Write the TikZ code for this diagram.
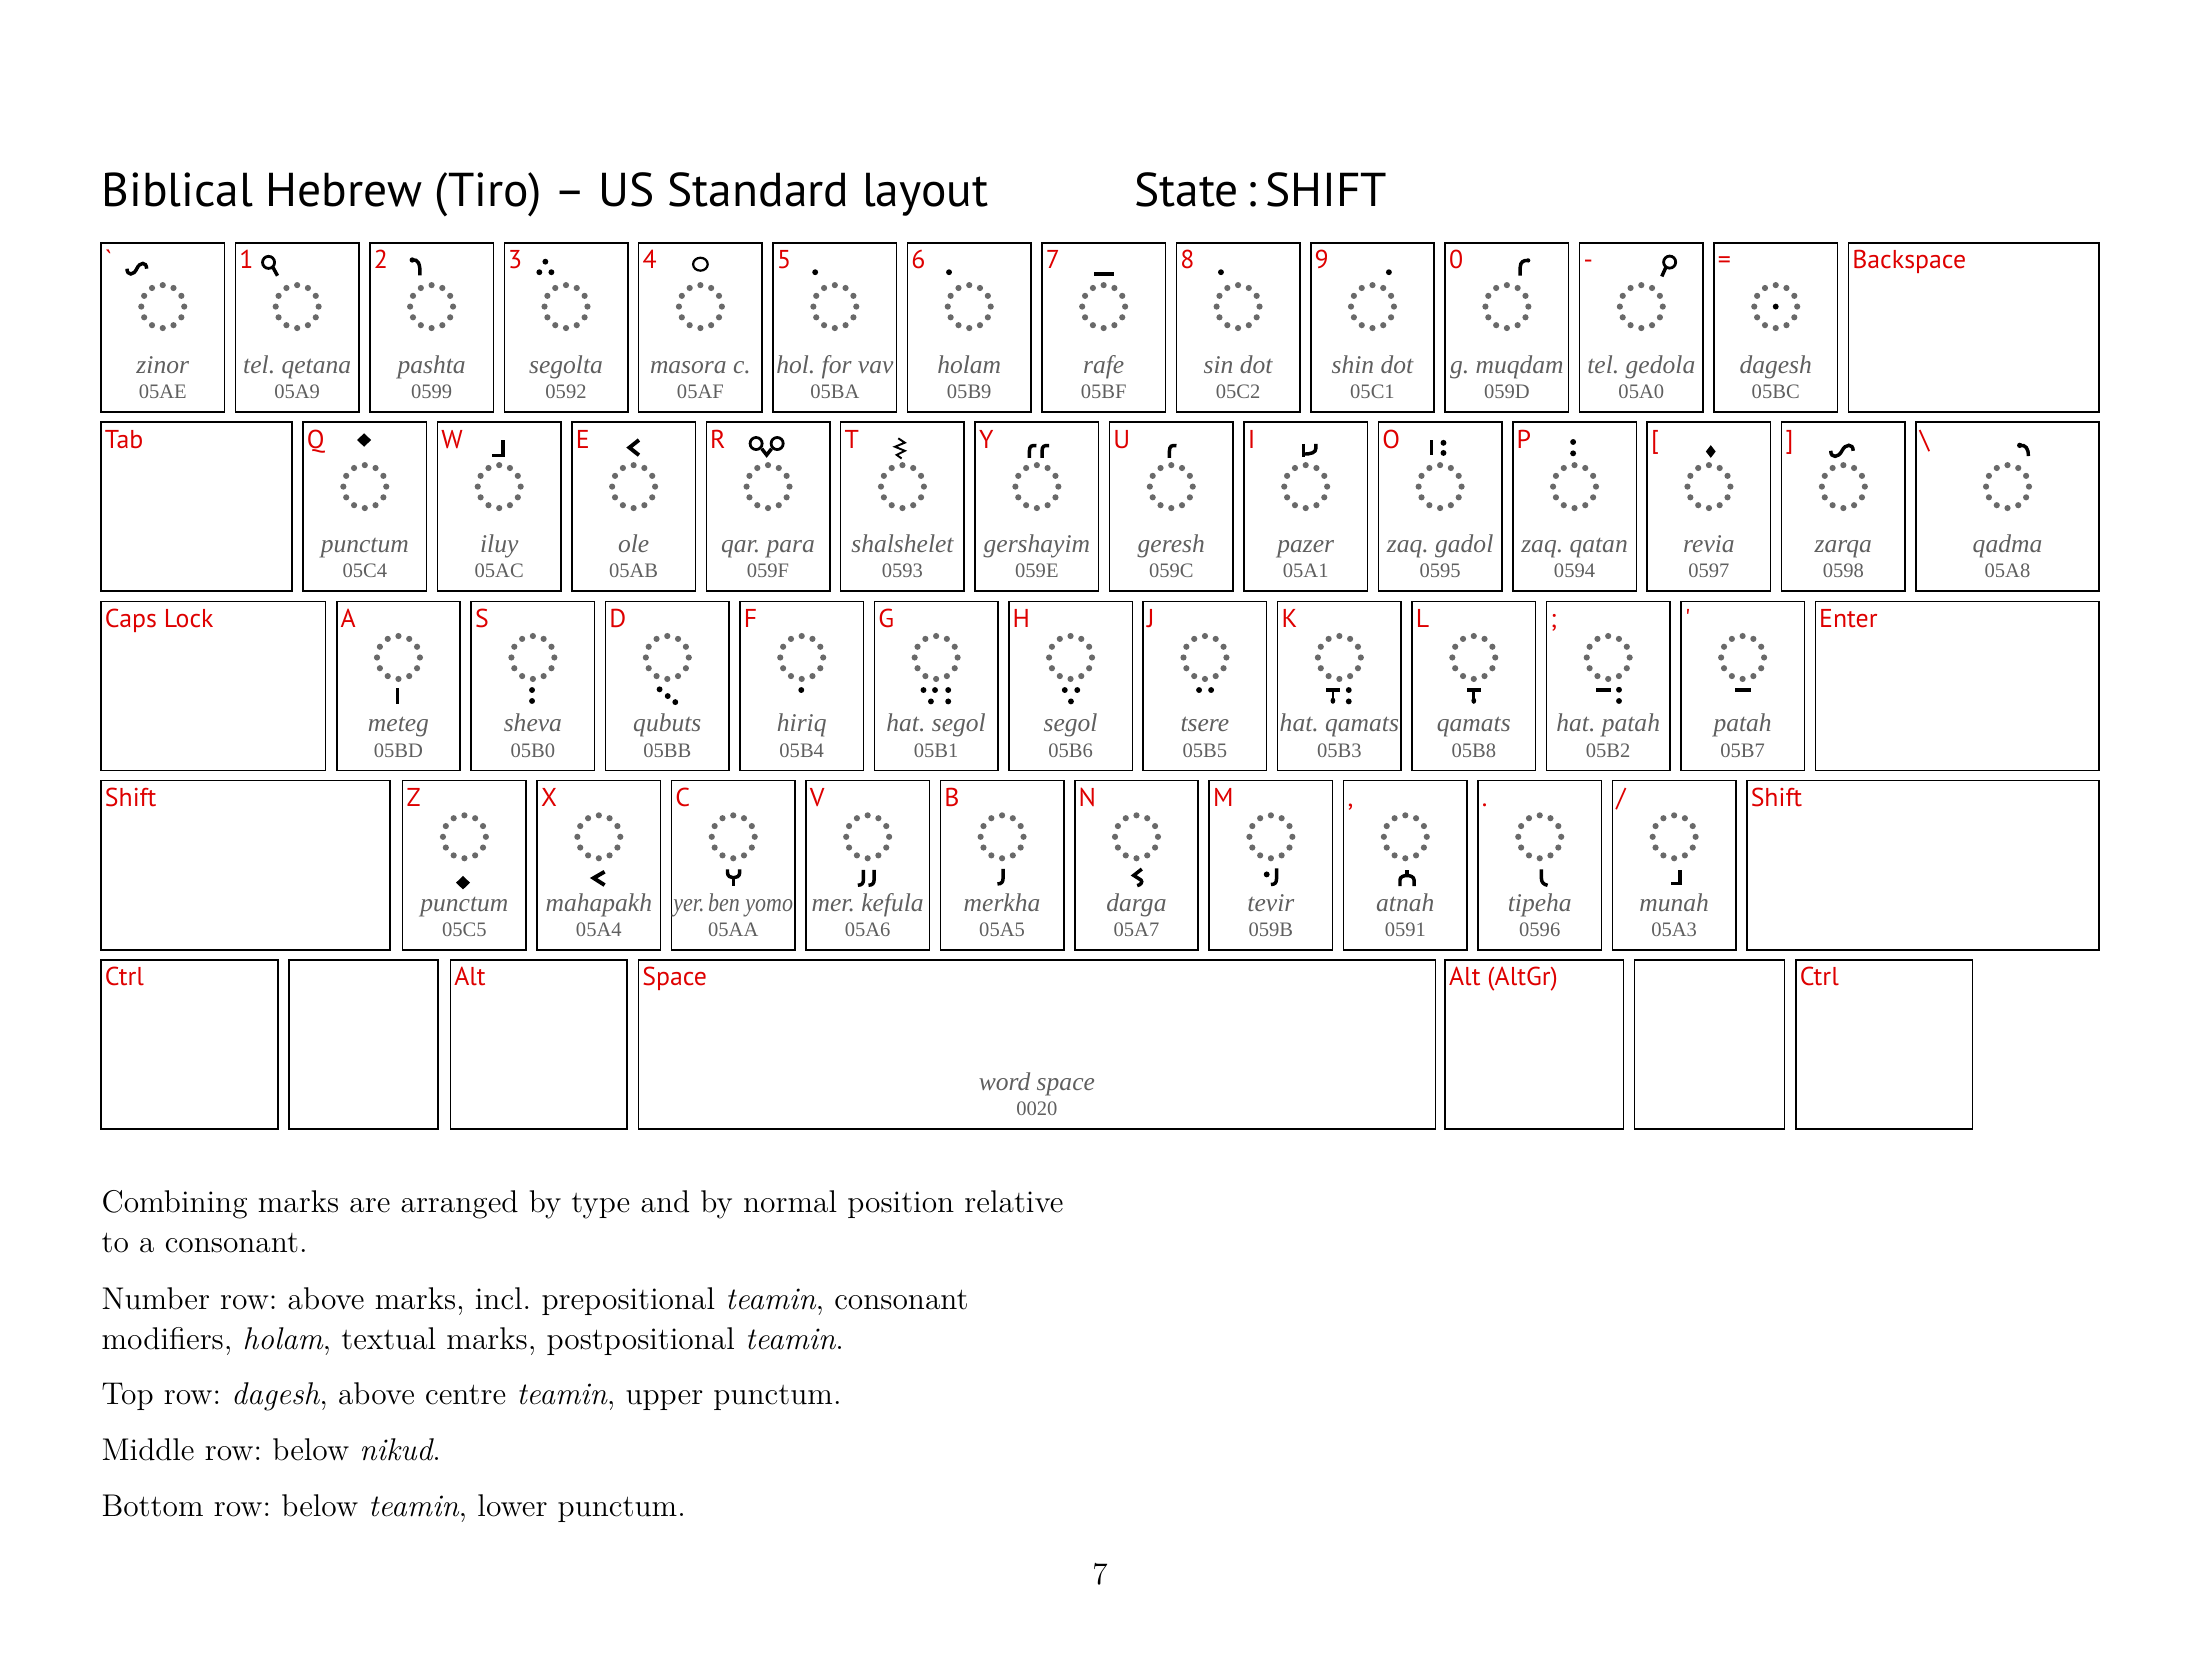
\documentclass[tikz,border=0pt]{standalone}
\usepackage{fontspec}
\usetikzlibrary{calc}
\newfontfamily\sansf{PT Sans}
\newfontfamily\nmserif{Liberation Serif}
\definecolor{keyred}{RGB}{222,0,0}
\definecolor{dotgray}{RGB}{105,105,105}
\definecolor{txtgray}{RGB}{95,95,95}
\frenchspacing
\tikzset{
 keyb/.style={draw=black, line width=0.55pt, anchor=north west, inner sep=0pt, outer sep=0pt, minimum height={120.5*0.505pt}},
 keylab/.style={anchor=base west, inner sep=0pt, text=keyred, font=\sansf\fontsize{9.3pt}{10pt}\selectfont},
 nm/.style={anchor=base, inner sep=0pt, text=txtgray, font=\nmserif\itshape\fontsize{9.2pt}{10pt}\selectfont},
 cd/.style={anchor=base, inner sep=0pt, text=txtgray, font=\nmserif\fontsize{7.4pt}{8pt}\selectfont},
 body/.style={anchor=base west, inner sep=0pt, font=\fontsize{11.3pt}{13pt}\selectfont},
 ttl/.style={anchor=base west, inner sep=0pt, font=\sansf\fontsize{17.1pt}{20pt}\selectfont},
 mks/.style={draw=black, line width=1.25pt},
}
\newcommand\Kkb[5]{%
  \node[keyb, minimum width={#4*0.505pt}] (#1) at (#2,#3) {};
  \node[keylab] (#1-lab) at ($(#1.north west)+(2.4,18.5)$) {#5};}
\newcommand\Kki[4]{%
  \begin{scope}[shift={(#1.north)}]
   \foreach \a in {0,30,...,330} \fill[dotgray] ([shift={(\a:15.3)}]0,#4) circle (2.2);
  \end{scope}
  \node[nm] (#1-nm) at ($(#1.north)+(0,93)$) {#2};
  \node[cd] (#1-cd) at ($(#1.north)+(0,111)$) {#3};}
\newcommand\Kmk[2]{\begin{scope}[shift={(#1.north)}]#2\end{scope}}
\newcommand\Kdt[2]{\fill (#1,#2) circle (2.1);}
\newcommand\Kdm[4]{\fill (#1-#3,#2) -- (#1,#2-#4) -- (#1+#3,#2) -- (#1,#2+#4) -- cycle;}
\newcommand\Krh[1]{\draw[mks] (#1,25.5) -- (#1,20.5) .. controls (#1,17.3) and (#1+1.5,16.3) .. (#1+5,16.8);}
\newcommand\Kjh[3]{\draw[mks] (#1,#2) -- (#1,#3-4) .. controls (#1,#3-1.3) and (#1-1.2,#3) .. (#1-4,#3);}
\newcommand\Kzs[4]{\draw[mks] (#1-#3,#2) .. controls (#1-#3,#2+#4*1.3) and (#1-#3*0.3,#2+#4*1.2) .. (#1,#2) .. controls (#1+#3*0.3,#2-#4*1.2) and (#1+#3,#2-#4*1.3) .. (#1+#3,#2);}
\begin{document}
\begin{tikzpicture}[x=0.505pt,y=-0.505pt]
\fill[white] (0,0) rectangle (1568,1179);
\useasboundingbox (0,0) rectangle (1568,1179);
\node[ttl] (title) at (72,147) {Biblical Hebrew (Tiro) – US Standard layout};
\node[ttl] (state) at (808,147) {State\,:\,SHIFT};
% row 1
\Kkb{kgr}{72}{173}{88}{\textasciigrave}
\Kkb{k1}{167.8}{173}{88}{1}
\Kkb{k2}{263.6}{173}{88}{2}
\Kkb{k3}{359.4}{173}{88}{3}
\Kkb{k4}{455.2}{173}{88}{4}
\Kkb{k5}{551}{173}{88}{5}
\Kkb{k6}{646.8}{173}{88}{6}
\Kkb{k7}{742.6}{173}{88}{7}
\Kkb{k8}{838.4}{173}{88}{8}
\Kkb{k9}{934.2}{173}{88}{9}
\Kkb{k0}{1030}{173}{88}{0}
\Kkb{kmin}{1125.8}{173}{88}{-}
\Kkb{keq}{1221.6}{173}{88}{=}
\Kkb{kbksp}{1317.4}{173}{178.6}{Backspace}
\Kki{kgr}{zinor}{05AE}{45.5}
\Kki{k1}{tel. qetana}{05A9}{45.5}
\Kki{k2}{pashta}{0599}{45.5}
\Kki{k3}{segolta}{0592}{45.5}
\Kki{k4}{masora c.}{05AF}{45.5}
\Kki{k5}{hol. for vav}{05BA}{45.5}
\Kki{k6}{holam}{05B9}{45.5}
\Kki{k7}{rafe}{05BF}{45.5}
\Kki{k8}{sin dot}{05C2}{45.5}
\Kki{k9}{shin dot}{05C1}{45.5}
\Kki{k0}{g. muqdam}{059D}{45.5}
\Kki{kmin}{tel. gedola}{05A0}{45.5}
\Kki{keq}{dagesh}{05BC}{45.5}
\Kmk{kgr}{\Kzs{-18.5}{18.5}{7}{4}}
\Kmk{k1}{\draw[line width=1pt] (-20.4,14) circle (4.3); \draw[mks] (-17.3,17.5) -- (-14,23.5);}
\Kmk{k2}{\fill (-13.8,12.3) circle (1.9); \draw[mks] (-13.8,12.3) .. controls (-9.5,11.5) and (-8,15) .. (-8.3,23.2);}
\Kmk{k3}{\Kdt{-14.7}{13.5}\Kdt{-19}{21}\Kdt{-10.4}{21}}
\Kmk{k4}{\draw[line width=0.8pt] (0,15.3) ellipse (5.2 and 4.6);}
\Kmk{k5}{\Kdt{-14}{21}}
\Kmk{k6}{\Kdt{-14.4}{21}}
\Kmk{k7}{\fill (-7,21) rectangle (7.7,23.5);}
\Kmk{k8}{\Kdt{-12.2}{21}}
\Kmk{k9}{\Kdt{11.7}{21}}
\Kmk{k0}{\draw[mks] (9.5,23.5) -- (9.5,17.5) .. controls (9.5,13.8) and (11.8,12.3) .. (15.2,12.6); \fill (15.2,12.6) circle (1.5);}
\Kmk{kmin}{\draw[line width=1pt] (20.2,13.8) circle (4.3); \draw[mks] (17.6,17.3) -- (14.6,24);}
\Kmk{keq}{\Kdt{0}{45.5}}
% row 2
\Kkb{ktab}{72}{300.8}{136}{Tab}
\Kkb{kq}{216}{300.8}{88}{Q}
\Kkb{kw}{311.8}{300.8}{88}{W}
\Kkb{ke}{407.6}{300.8}{88}{E}
\Kkb{kr}{503.4}{300.8}{88}{R}
\Kkb{kt}{599.2}{300.8}{88}{T}
\Kkb{ky}{695}{300.8}{88}{Y}
\Kkb{ku}{790.8}{300.8}{88}{U}
\Kkb{ki}{886.6}{300.8}{88}{I}
\Kkb{ko}{982.4}{300.8}{88}{O}
\Kkb{kp}{1078.2}{300.8}{88}{P}
\Kkb{klb}{1174}{300.8}{88}{[}
\Kkb{krb}{1269.8}{300.8}{88}{]}
\Kkb{kbsl}{1365.6}{300.8}{130.4}{\textbackslash}
\Kki{kq}{punctum}{05C4}{46}
\Kki{kw}{iluy}{05AC}{46}
\Kki{ke}{ole}{05AB}{46}
\Kki{kr}{qar. para}{059F}{46}
\Kki{kt}{shalshelet}{0593}{46}
\Kki{ky}{gershayim}{059E}{46}
\Kki{ku}{geresh}{059C}{46}
\Kki{ki}{pazer}{05A1}{46}
\Kki{ko}{zaq. gadol}{0595}{46}
\Kki{kp}{zaq. qatan}{0594}{46}
\Kki{klb}{revia}{0597}{46}
\Kki{krb}{zarqa}{0598}{46}
\Kki{kbsl}{qadma}{05A8}{46}
\Kmk{kq}{\Kdm{-0.5}{12.8}{5}{4.8}}
\Kmk{kw}{\draw[mks] (2.7,12.8) -- (2.7,24) -- (-5.3,24);}
\Kmk{ke}{\draw[mks,line width=1.4pt] (3.8,12.8) -- (-3,18.2) -- (3.8,23.6);}
\Kmk{kr}{\draw[line width=1pt] (-8.5,15.3) circle (4.3); \draw[line width=1pt] (6.5,15.3) circle (4.3); \draw[mks] (-4.5,19) -- (-1,23.5) -- (2.5,19);}
\Kmk{kt}{\draw[line width=0.7pt] (-3,11.6) -- (1.7,14.7) -- (-5.3,17.6) -- (1.7,20.5) -- (-4.1,23.4) -- (-0.6,26);}
\Kmk{ky}{\Krh{-5.3}\Krh{3.7}}
\Kmk{ku}{\Krh{-1.3}}
\Kmk{ki}{\draw[mks] (-1.5,15.5) -- (-1.5,25); \draw[mks] (7.3,15.5) -- (7.3,18.5) .. controls (7.3,21.8) and (4,22.8) .. (-1.5,22.8);}
\Kmk{ko}{\fill (-7.4,12.8) rectangle (-5,23.5); \Kdt{2.4}{14.8}\Kdt{2.4}{22}}
\Kmk{kp}{\Kdt{-1}{14.2}\Kdt{-1}{22.3}}
\Kmk{klb}{\Kdm{1.3}{21}{3.5}{4.5}}
\Kmk{krb}{\Kzs{-1}{20.5}{8}{4.2}}
\Kmk{kbsl}{\fill (8.7,16.6) circle (1.9); \draw[mks] (8.7,16.6) .. controls (13,16) and (15,19) .. (14.8,24.2);}
% row 3
\Kkb{kcaps}{72}{428.6}{160}{Caps Lock}
\Kkb{ka}{240}{428.6}{88}{A}
\Kkb{ks}{335.8}{428.6}{88}{S}
\Kkb{kd}{431.6}{428.6}{88}{D}
\Kkb{kf}{527.4}{428.6}{88}{F}
\Kkb{kg}{623.2}{428.6}{88}{G}
\Kkb{kh}{719}{428.6}{88}{H}
\Kkb{kj}{814.8}{428.6}{88}{J}
\Kkb{kk}{910.6}{428.6}{88}{K}
\Kkb{kl}{1006.4}{428.6}{88}{L}
\Kkb{ksemi}{1102.2}{428.6}{88}{;}
\Kkb{kap}{1198}{428.6}{88}{\textquotesingle}
\Kkb{kent}{1293.8}{428.6}{202.2}{Enter}
\Kki{ka}{meteg}{05BD}{40}
\Kki{ks}{sheva}{05B0}{40}
\Kki{kd}{qubuts}{05BB}{40}
\Kki{kf}{hiriq}{05B4}{40}
\Kki{kg}{hat. segol}{05B1}{40}
\Kki{kh}{segol}{05B6}{40}
\Kki{kj}{tsere}{05B5}{40}
\Kki{kk}{hat. qamats}{05B3}{40}
\Kki{kl}{qamats}{05B8}{40}
\Kki{ksemi}{hat. patah}{05B2}{40}
\Kki{kap}{patah}{05B7}{40}
\Kmk{ka}{\fill (-1.8,61.5) rectangle (0.6,73.4);}
\Kmk{ks}{\Kdt{-0.6}{63.2}\Kdt{-0.6}{71}}
\Kmk{kd}{\Kdt{-5.5}{62.7}\Kdt{0.3}{67.5}\Kdt{5.7}{71.8}}
\Kmk{kf}{\Kdt{-0.3}{63.2}}
\Kmk{kg}{\Kdt{-9}{63.2}\Kdt{-0.8}{63.2}\Kdt{8.6}{63.2}\Kdt{-3.7}{71.3}\Kdt{8.6}{71.3}}
\Kmk{kh}{\Kdt{-4.1}{63.2}\Kdt{4.8}{63.2}\Kdt{0.3}{71.3}}
\Kmk{kj}{\Kdt{-4.2}{63.2}\Kdt{4.4}{63.2}}
\Kmk{kk}{\fill (-9.8,61.8) rectangle (0.5,64.6); \draw[line width=1pt] (-4.6,64) -- (-4.6,70); \fill (-4.6,70.8) ellipse (1.7 and 2.2); \Kdt{6.7}{63.2}\Kdt{6.7}{71.3}}
\Kmk{kl}{\fill (-5.1,61.8) rectangle (4.9,64.6); \draw[line width=1pt] (0,64) -- (0,70); \fill (0,70.8) ellipse (1.7 and 2.2);}
\Kmk{ksemi}{\fill (-8.7,61.8) rectangle (1.7,64.3); \Kdt{7.7}{63}\Kdt{7.7}{71}}
\Kmk{kap}{\fill (-5.3,62) rectangle (6,64.6);}
% row 4
\Kkb{kshl}{72}{556.4}{206}{Shift}
\Kkb{kz}{287}{556.4}{88}{Z}
\Kkb{kx}{382.8}{556.4}{88}{X}
\Kkb{kc}{478.6}{556.4}{88}{C}
\Kkb{kv}{574.4}{556.4}{88}{V}
\Kkb{kbb}{670.2}{556.4}{88}{B}
\Kkb{kn}{766}{556.4}{88}{N}
\Kkb{km}{861.8}{556.4}{88}{M}
\Kkb{kcomma}{957.6}{556.4}{88}{,}
\Kkb{kdot}{1053.4}{556.4}{88}{.}
\Kkb{kslash}{1149.2}{556.4}{88}{/}
\Kkb{kshr}{1245}{556.4}{251}{Shift}
\Kki{kz}{punctum}{05C5}{40}
\Kki{kx}{mahapakh}{05A4}{40}
\Kki{kc}{\scalebox{0.86}[1]{yer.\,ben yomo}}{05AA}{40}
\Kki{kv}{mer. kefula}{05A6}{40}
\Kki{kbb}{merkha}{05A5}{40}
\Kki{kn}{darga}{05A7}{40}
\Kki{km}{tevir}{059B}{40}
\Kki{kcomma}{atnah}{0591}{40}
\Kki{kdot}{tipeha}{0596}{40}
\Kki{kslash}{munah}{05A3}{40}
\Kmk{kz}{\Kdm{-1}{72.7}{5}{4.8}}
\Kmk{kx}{\draw[mks,line width=1.4pt] (4.1,64.9) -- (-3.7,69.4) -- (4.1,74.4);}
\Kmk{kc}{\draw[mks] (-4.1,63.3) -- (-4.1,65.5) .. controls (-4.1,70.5) and (4.6,70.5) .. (4.6,65.5) -- (4.6,63.3); \draw[mks] (0.25,69.3) -- (0.25,75.3);}
\Kmk{kv}{\Kjh{-3}{63.5}{74.5}\Kjh{4.6}{63.5}{74.5}}
\Kmk{kbb}{\Kjh{0.7}{62.8}{73.6}}
\Kmk{kn}{\draw[mks] (3.8,63) -- (-2,67.5) -- (3.2,70.8) .. controls (4.6,72.3) and (3,74.3) .. (0.5,74.8);}
\Kmk{km}{\Kdt{-3}{66.8}\Kjh{4}{62.5}{74}}
\Kmk{kcomma}{\draw[mks] (-3.8,75.2) -- (-3.8,70.8) .. controls (-3.8,66.5) and (6.2,66.5) .. (6.2,70.8) -- (6.2,75.2); \draw[mks] (1.2,67.6) -- (1.2,63.5);}
\Kmk{kdot}{\draw[mks] (1.2,63.3) -- (1.2,69.5) .. controls (1.2,72.5) and (2.7,73.9) .. (5.6,74.6);}
\Kmk{kslash}{\draw[mks] (4,63.7) -- (4,73.2) -- (-2.3,73.2);}
% row 5
\Kkb{kctl}{72}{684.2}{126}{Ctrl}
\Kkb{kwin}{206}{684.2}{106}{}
\Kkb{kalt}{321}{684.2}{126}{Alt}
\Kkb{kspc}{455}{684.2}{568}{Space}
\Kkb{kagr}{1030}{684.2}{127}{Alt (AltGr)}
\Kkb{kmenu}{1165}{684.2}{107}{}
\Kkb{kctr}{1280}{684.2}{126}{Ctrl}
\node[nm] (kspc-nm) at ($(kspc.north)+(0,93)$) {word space};
\node[cd] (kspc-cd) at ($(kspc.north)+(0,111)$) {0020};
% text
\node[body] (t1) at (72,864) {Combining marks are arranged by type and by normal position relative};
\node[body] (t2) at (72,893) {to a consonant.};
\node[body] (t3) at (72,933) {Number row: above marks, incl. prepositional \textit{teamin}, consonant};
\node[body] (t4) at (72,962) {modifiers, \textit{holam}, textual marks, postpositional \textit{teamin}.};
\node[body] (t5) at (72,1001) {Top row: \textit{dagesh}, above centre \textit{teamin}, upper punctum.};
\node[body] (t6) at (72,1041) {Middle row: below \textit{nikud}.};
\node[body] (t7) at (72,1081) {Bottom row: below \textit{teamin}, lower punctum.};
\node[body, anchor=base] (pg) at (784,1129) {7};
\end{tikzpicture}
\end{document}
